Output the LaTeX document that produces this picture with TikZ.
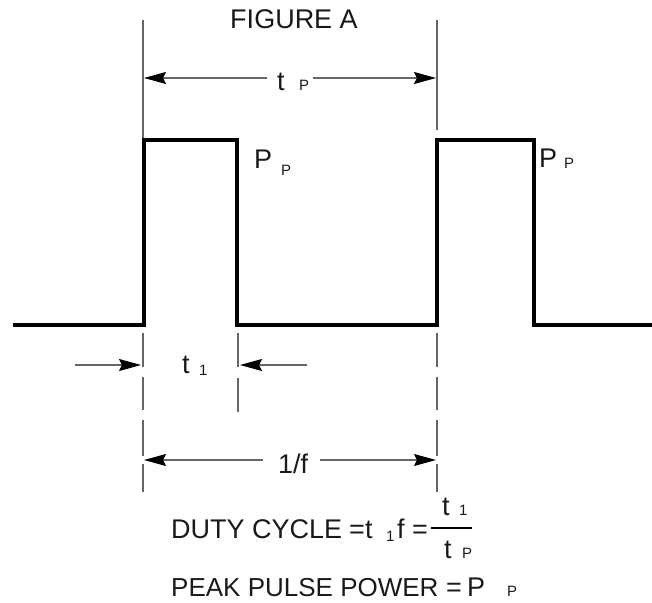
\documentclass[tikz,border=0pt]{standalone}
\usepackage{fontspec}
\setmainfont{Liberation Sans}
\usetikzlibrary{arrows.meta}
\begin{document}
\begin{tikzpicture}[x=1pt,y=-1pt,
  pulse/.style={line width=3.6pt,line join=miter,black},
  guide/.style={line width=1.2pt,draw=black!60},
  dim/.style={line width=1.2pt,draw=black!60,-{Stealth[length=22pt,width=12pt,inset=3pt,color=black]}},
  lbl/.style={inner sep=0pt,anchor=base west,text=black!90,font=\fontsize{27}{32}\selectfont},
  sub/.style={inner sep=0pt,anchor=base west,text=black!90,font=\fontsize{15}{17}\selectfont}]
\useasboundingbox (0,0) rectangle (652,602);
% waveform
\draw[pulse] (13,325) -- (144,325) -- (144,140) -- (237,140) -- (237,325) -- (437,325) -- (437,140) -- (534,140) -- (534,325) -- (652,325);
% guide lines
\draw[guide] (143,20) -- (143,138);
\draw[guide] (437,20) -- (437,130);
\foreach \x in {143,437}{
  \draw[guide] (\x,333) -- (\x,367);
  \draw[guide] (\x,377) -- (\x,410);
  \draw[guide] (\x,420) -- (\x,456);
  \draw[guide] (\x,464) -- (\x,492);
}
\draw[guide] (238,333) -- (238,367);
\draw[guide] (238,378) -- (238,412);
% title
\node[lbl,anchor=base] (fig) at (294,29) {FIGURE A};
% tp dimension
\node[lbl] (tpt) at (277,90) {t};
\node[sub] (tps) at (299,90) {P};
\coordinate (tpL) at (267,78);
\coordinate (tpR) at (313,78);
\coordinate (tpA) at (144,78);
\coordinate (tpB) at (436,78);
\draw[dim] (tpL) -- (tpA);
\draw[dim] (tpR) -- (tpB);
% Pp labels
\node[lbl] (pp1) at (254,168) {P};
\node[sub] (pp1s) at (281,175) {P};
\node[lbl] (pp2) at (539,167) {P};
\node[sub] (pp2s) at (564,168) {P};
% t1 dimension
\node[lbl] (t1t) at (182,373) {t};
\node[sub] (t1s) at (199,375) {1};
\coordinate (t1a) at (75,365);
\coordinate (t1b) at (141,365);
\coordinate (t1c) at (307,365);
\coordinate (t1d) at (240,365);
\draw[dim] (t1a) -- (t1b);
\draw[dim] (t1c) -- (t1d);
% 1/f dimension
\node[lbl] (ff) at (278,473) {1/f};
\coordinate (fL) at (263,460);
\coordinate (fR) at (320,460);
\coordinate (fA) at (144,460);
\coordinate (fB) at (436,460);
\draw[dim] (fL) -- (fA);
\draw[dim] (fR) -- (fB);
% duty cycle
\node[lbl] (duty) at (171,538) {DUTY CYCLE};
\node[lbl] (deq) at (349,538) {=};
\node[lbl] (dt) at (365,538) {t};
\node[sub] (dsub) at (386,541) {1};
\node[lbl] (df) at (397,538) {f};
\node[lbl] (deq2) at (412,538) {=};
\coordinate (frA) at (431,528);
\coordinate (frB) at (472,528);
\draw[line width=2.4pt] (frA) -- (frB);
\node[lbl] (nt) at (442,515) {t};
\node[sub] (ns) at (459,515) {1};
\node[lbl] (dnt) at (444,558) {t};
\node[sub] (dns) at (462,558) {P};
% peak pulse power
\node[lbl,font=\fontsize{26}{31}\selectfont] (peak) at (171,596) {PEAK PULSE POWER};
\node[lbl] (peq) at (446,596) {=};
\node[lbl] (pp) at (467,596) {P};
\node[sub] (peaks) at (507,596) {P};
\end{tikzpicture}
\end{document}
